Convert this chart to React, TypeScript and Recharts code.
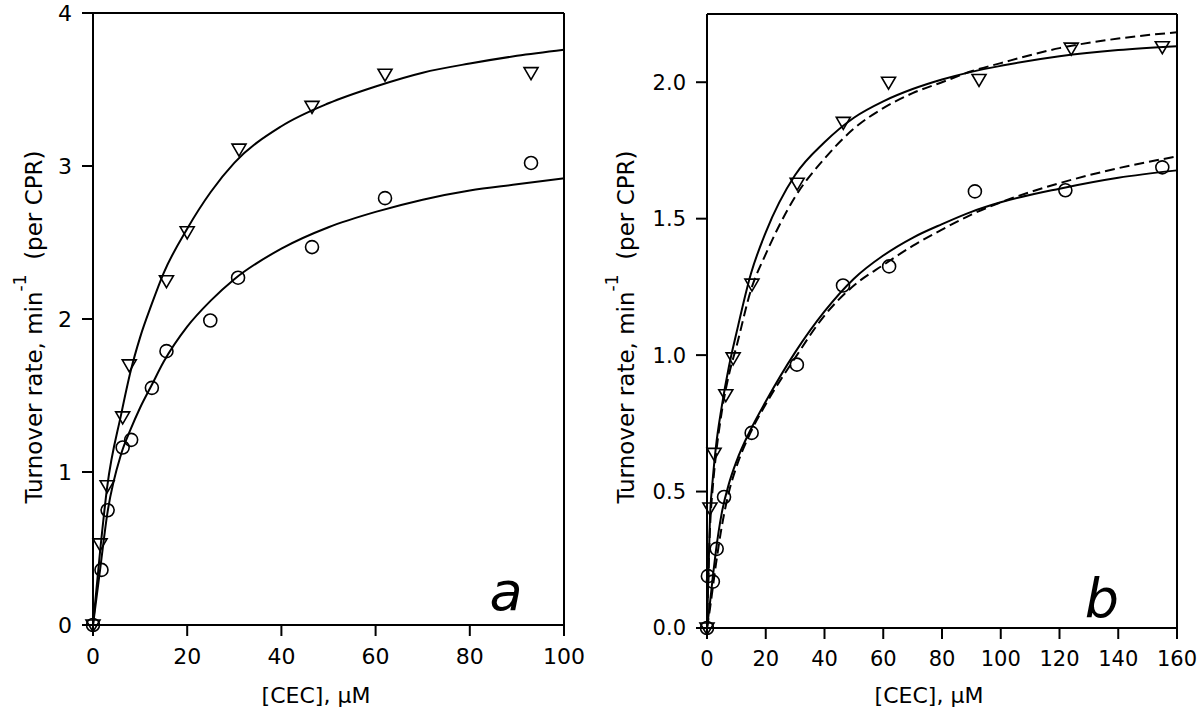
import React from 'react'
import { ComposedChart, Line, Scatter, XAxis, YAxis, ReferenceLine } from 'recharts'

const FONT = '"DejaVu Sans", Verdana, sans-serif'

// panel a: measured points
const aTriX = [0, 1.5, 3, 6.3, 7.7, 15.6, 20, 31, 46.5, 62, 93]
const aTriY = [0, 0.53, 0.91, 1.36, 1.7, 2.25, 2.57, 3.11, 3.39, 3.6, 3.61]
const aCircX = [0, 1.8, 3.1, 6.3, 8.1, 12.5, 15.6, 24.9, 30.8, 46.5, 62, 93]
const aCircY = [0, 0.36, 0.75, 1.16, 1.21, 1.55, 1.79, 1.99, 2.27, 2.47, 2.79, 3.02]

// panel a: fitted curves
const aFitX = [0, 1.5, 3, 6, 8, 10, 12.5, 15, 20, 25, 30, 40, 50, 60, 70, 80, 90, 100]
const aTriFit = [0, 0.48, 0.9, 1.38, 1.66, 1.88, 2.1, 2.3, 2.59, 2.83, 3.02, 3.26, 3.41, 3.52, 3.61, 3.67, 3.72, 3.76]
const aCircFit = [0, 0.36, 0.72, 1.12, 1.28, 1.42, 1.57, 1.72, 1.95, 2.12, 2.26, 2.46, 2.6, 2.7, 2.78, 2.84, 2.88, 2.92]

// panel b: measured points
const bTriX = [0, 1, 2.4, 6.4, 8.9, 15.3, 30.7, 46.4, 61.8, 92.6, 124, 155]
const bTriY = [0, 0.44, 0.64, 0.855, 0.99, 1.26, 1.63, 1.853, 2.0, 2.01, 2.125, 2.13]
const bCircX = [0, 0.3, 2, 3.3, 5.8, 15.2, 30.6, 46.3, 62, 91.2, 122, 155]
const bCircY = [0, 0.19, 0.17, 0.29, 0.48, 0.715, 0.965, 1.255, 1.325, 1.6, 1.604, 1.688]

// panel b: fitted curves (solid and dashed)
const bFitX = [0, 1, 2, 3, 5, 7.5, 10, 15, 20, 30, 40, 50, 60, 70, 80, 90, 100, 120, 140, 160]
const bTriSolid = [0, 0.4, 0.55, 0.66, 0.81, 0.96, 1.08, 1.3, 1.45, 1.66, 1.78, 1.87, 1.93, 1.975, 2.01, 2.038, 2.06, 2.095, 2.118, 2.132]
const bTriDash = [0, 0.36, 0.52, 0.63, 0.79, 0.93, 1.03, 1.24, 1.37, 1.58, 1.72, 1.83, 1.905, 1.96, 2.0, 2.04, 2.07, 2.125, 2.16, 2.183]
const bCircSolid = [0, 0.09, 0.19, 0.28, 0.42, 0.53, 0.61, 0.73, 0.83, 1.01, 1.16, 1.28, 1.365, 1.43, 1.48, 1.525, 1.56, 1.61, 1.65, 1.677]
const bCircDash = [0, 0.07, 0.15, 0.23, 0.37, 0.5, 0.59, 0.72, 0.82, 0.99, 1.145, 1.255, 1.33, 1.4, 1.46, 1.515, 1.56, 1.63, 1.685, 1.728]

const aXTicks = [0, 20, 40, 60, 80, 100]
const aYTicks = [0, 1, 2, 3, 4]
const bXTicks = [0, 20, 40, 60, 80, 100, 120, 140, 160]
const bYTicks = [0, 0.5, 1, 1.5, 2]

const rows = (xs: number[], ys: number[]) => xs.map((x, i) => ({ x, y: ys[i] }))

const Tri = (p: any) => {
  const { cx, cy } = p
  return <path d={`M${cx - 7},${cy - 5} L${cx + 7},${cy - 5} L${cx},${cy + 7} Z`} fill="none" stroke="#000" strokeWidth={1.6} />
}
const Circ = (p: any) => <circle cx={p.cx} cy={p.cy} r={6.5} fill="none" stroke="#000" strokeWidth={1.6} />

function YTitle({ px, py }: any) {
  return (
    <text transform={`translate(${px},${py}) rotate(-90)`} textAnchor="middle" fontFamily={FONT} fontSize={23} fill="#000">
      Turnover rate, min
      <tspan dy={-16} fontSize={17}>-1</tspan>
      <tspan dy={16}>{'\u00a0\u00a0(per CPR)'}</tspan>
    </text>
  )
}

function XTitle({ px, py }: any) {
  return (
    <text x={px} y={py} textAnchor="middle" fontFamily={FONT} fontSize={22} fill="#000">
      [CEC], µM
    </text>
  )
}

const axisLine = { stroke: '#000', strokeWidth: 2 }

function Panel(props: {
  margin: any
  xTicks: number[]
  yTicks: number[]
  xMax: number
  yMax: number
  tickSize: number
  yFmt: (v: number) => string
  yTitleX: number
  xTitleX: number
  children: React.ReactNode
}) {
  const { margin, xTicks, yTicks, xMax, yMax, tickSize, yFmt } = props
  const tickStyle = { fill: '#000', fontSize: tickSize, fontFamily: FONT }
  return (
    <ComposedChart width={600} height={714} margin={margin} style={{ overflow: 'visible' }}>
      <XAxis
        type="number"
        dataKey="x"
        domain={[0, xMax]}
        ticks={xTicks}
        axisLine={axisLine}
        tickLine={axisLine}
        tickSize={11}
        tickMargin={12}
        tick={tickStyle}
        height={60}
        label={<XTitle px={props.xTitleX} py={703} />}
      />
      <YAxis
        type="number"
        domain={[0, yMax]}
        ticks={yTicks}
        axisLine={axisLine}
        tickLine={axisLine}
        tickSize={11}
        tickMargin={10}
        tick={tickStyle}
        tickFormatter={yFmt}
        width={70}
        label={<YTitle px={props.yTitleX} py={327} />}
      />
      <ReferenceLine y={yMax} stroke="#000" strokeWidth={2} />
      <ReferenceLine x={xMax} stroke="#000" strokeWidth={2} />
      {props.children}
    </ComposedChart>
  )
}

export default function App() {
  return (
    <div style={{ position: 'absolute', left: 0, top: 0, width: 1200, height: 714, background: '#fff' }}>
      <div style={{ position: 'absolute', left: 0, top: 0 }}>
        <Panel
          margin={{ top: 13, right: 36, bottom: 29, left: 23 }}
          xTicks={aXTicks}
          yTicks={aYTicks}
          xMax={100}
          yMax={4}
          tickSize={22}
          yFmt={(v) => String(v)}
          yTitleX={42}
          xTitleX={316}
        >
          <Line data={rows(aFitX, aTriFit)} dataKey="y" type="monotone" dot={false} stroke="#000" strokeWidth={2} isAnimationActive={false} />
          <Line data={rows(aFitX, aCircFit)} dataKey="y" type="monotone" dot={false} stroke="#000" strokeWidth={2} isAnimationActive={false} />
          <Scatter data={rows(aTriX, aTriY)} dataKey="y" shape={Tri} isAnimationActive={false} />
          <Scatter data={rows(aCircX, aCircY)} dataKey="y" shape={Circ} isAnimationActive={false} />
        </Panel>
      </div>
      <div style={{ position: 'absolute', left: 600, top: 0 }}>
        <Panel
          margin={{ top: 14, right: 23, bottom: 26, left: 37 }}
          xTicks={bXTicks}
          yTicks={bYTicks}
          xMax={160}
          yMax={2.25}
          tickSize={21}
          yFmt={(v) => v.toFixed(1)}
          yTitleX={34}
          xTitleX={329}
        >
          <Line data={rows(bFitX, bTriSolid)} dataKey="y" type="monotone" dot={false} stroke="#000" strokeWidth={2} isAnimationActive={false} />
          <Line data={rows(bFitX, bTriDash)} dataKey="y" type="monotone" dot={false} stroke="#000" strokeWidth={2} strokeDasharray="10 5" isAnimationActive={false} />
          <Line data={rows(bFitX, bCircSolid)} dataKey="y" type="monotone" dot={false} stroke="#000" strokeWidth={2} isAnimationActive={false} />
          <Line data={rows(bFitX, bCircDash)} dataKey="y" type="monotone" dot={false} stroke="#000" strokeWidth={2} strokeDasharray="10 5" isAnimationActive={false} />
          <Scatter data={rows(bTriX, bTriY)} dataKey="y" shape={Tri} isAnimationActive={false} />
          <Scatter data={rows(bCircX, bCircY)} dataKey="y" shape={Circ} isAnimationActive={false} />
        </Panel>
      </div>
      <svg width={1200} height={714} style={{ position: 'absolute', left: 0, top: 0, pointerEvents: 'none' }}>
        <text x={506} y={610} textAnchor="middle" fontFamily={FONT} fontStyle="italic" fontSize={54} fill="#000">a</text>
        <text x={1102} y={617} textAnchor="middle" fontFamily={FONT} fontStyle="italic" fontSize={54} fill="#000">b</text>
      </svg>
    </div>
  )
}
